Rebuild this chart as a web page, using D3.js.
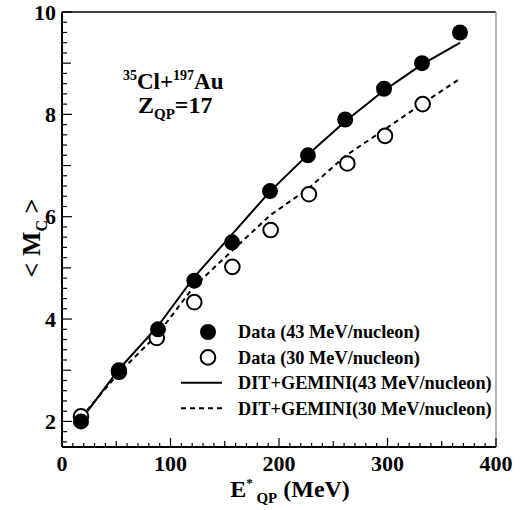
<!DOCTYPE html>
<html>
<head>
<meta charset="utf-8">
<script src="https://cdn.jsdelivr.net/npm/d3@7"></script>
<style>
  html, body { margin: 0; padding: 0; background: #fff; }
  svg { display: block; font-family: "Liberation Serif", "DejaVu Serif", serif; font-weight: bold; }
</style>
</head>
<body>
<svg id="chart" width="526" height="510"></svg>
<script>
// measured charged-particle multiplicity vs excitation energy
const E43 = [17.5, 52.5, 88.5, 122, 156.7, 191.7, 226.7, 261, 296.8, 331.8, 366.8];
const M43 = [2.0, 3.0, 3.8, 4.75, 5.5, 6.5, 7.2, 7.9, 8.5, 9.0, 9.6];
const E30 = [17.5, 52.5, 87.3, 121.9, 157, 192.3, 227.6, 263, 297.7, 332.4];
const M30 = [2.1, 2.97, 3.63, 4.33, 5.02, 5.74, 6.44, 7.04, 7.58, 8.2];

// DIT+GEMINI calculations
const SIM_E = [17.5, 52.5, 88, 121, 156.5, 192, 227, 262, 297, 331.5, 367];
const SIM43 = [2.03, 3.02, 3.85, 4.8, 5.65, 6.5, 7.22, 7.88, 8.47, 8.97, 9.4];
const SIM30 = [2.08, 2.95, 3.7, 4.62, 5.33, 6.03, 6.55, 7.2, 7.7, 8.2, 8.7];

const X_TICKS = [0, 100, 200, 300, 400];
const Y_TICKS = [2, 4, 6, 8, 10];

const svg = d3.select('#chart');
const padL = 62, padR = 496, padT = 12, padB = 447;

const x = d3.scaleLinear().domain([0, 400]).range([padL, padR]);
const y = d3.scaleLinear().domain([1.5, 10]).range([padB, padT]);

/*
 * frame
 */
svg.append('line').attr('x1', padL).attr('x2', padR).attr('y1', padT).attr('y2', padT)
  .attr('stroke', '#000').attr('stroke-width', 1.5);
svg.append('line').attr('x1', padR).attr('x2', padR).attr('y1', padT).attr('y2', padB)
  .attr('stroke', '#999').attr('stroke-width', 1.5);

/*
 * x axis: minor every 10, medium every 50, major every 100
 */
const xMinor = d3.range(0, 401, 10);
svg.append('g').selectAll('line')
  .data(xMinor)
  .enter()
  .append('line')
  .attr('x1', d => x(d)).attr('x2', d => x(d))
  .attr('y1', padB)
  .attr('y2', d => padB - (d % 100 === 0 ? 9 : d % 50 === 0 ? 6 : 4))
  .attr('stroke', '#000').attr('stroke-width', 1.2);

svg.append('g').selectAll('text')
  .data(X_TICKS)
  .enter()
  .append('text')
  .attr('x', d => x(d))
  .attr('y', 471)
  .attr('text-anchor', 'middle')
  .attr('font-size', 22)
  .text(d => d);

/*
 * y axis: minor every 0.2, medium at odd integers, major every 2
 */
const yMinor = d3.range(16, 101, 2).map(d => d / 10);
svg.append('g').selectAll('line')
  .data(yMinor)
  .enter()
  .append('line')
  .attr('x1', padL)
  .attr('x2', d => {
    const r = Math.round(d * 10);
    return padL + (r % 20 === 0 ? 10 : r % 10 === 0 ? 9 : 5);
  })
  .attr('y1', d => y(d)).attr('y2', d => y(d))
  .attr('stroke', '#000').attr('stroke-width', 1.2);

svg.append('g').selectAll('text')
  .data(Y_TICKS)
  .enter()
  .append('text')
  .attr('x', 56)
  .attr('y', d => y(d))
  .attr('dy', '0.35em')
  .attr('text-anchor', 'end')
  .attr('font-size', 22)
  .text(d => d);

svg.append('line').attr('x1', padL).attr('x2', padR).attr('y1', padB).attr('y2', padB)
  .attr('stroke', '#000').attr('stroke-width', 2);
svg.append('line').attr('x1', padL).attr('x2', padL).attr('y1', padT).attr('y2', padB)
  .attr('stroke', '#000').attr('stroke-width', 2);

/*
 * axis titles
 */
const xt = svg.append('text')
  .attr('x', 290).attr('y', 497)
  .attr('text-anchor', 'middle')
  .attr('font-size', 24);
xt.append('tspan').text('E');
xt.append('tspan').attr('font-size', 13).attr('dy', -10).text('*');
xt.append('tspan').attr('font-size', 15).attr('dy', 16).text(' QP');
xt.append('tspan').attr('dy', -6).text(' (MeV)');

const yt = svg.append('text')
  .attr('transform', 'translate(40,' + 238 + ') rotate(-90)')
  .attr('text-anchor', 'middle')
  .attr('font-size', 26);
yt.append('tspan').text('< M');
yt.append('tspan').attr('font-size', 16).attr('dy', 7).text('C');
yt.append('tspan').attr('dy', -7).text(' >');

/*
 * reaction label
 */
const r1 = svg.append('text').attr('x', 123).attr('y', 89).attr('font-size', 23);
r1.append('tspan').attr('font-size', 14).attr('dy', -9).text('35');
r1.append('tspan').attr('dy', 9).text('Cl+');
r1.append('tspan').attr('font-size', 14).attr('dy', -9).text('197');
r1.append('tspan').attr('dy', 9).text('Au');

const r2 = svg.append('text').attr('x', 138).attr('y', 113).attr('font-size', 24);
r2.append('tspan').text('Z');
r2.append('tspan').attr('font-size', 15).attr('dy', 6).text('QP');
r2.append('tspan').attr('dy', -6).text('=17');

/*
 * calculation curves
 */
const line = d3.line().x(d => x(d[0])).y(d => y(d[1]));
svg.append('path')
  .attr('d', line(d3.zip(SIM_E, SIM43)))
  .attr('fill', 'none').attr('stroke', '#000').attr('stroke-width', 2);
svg.append('path')
  .attr('d', line(d3.zip(SIM_E, SIM30)))
  .attr('fill', 'none').attr('stroke', '#000').attr('stroke-width', 2)
  .attr('stroke-dasharray', '5,4');

/*
 * data points
 */
svg.append('g').selectAll('circle')
  .data(d3.zip(E30, M30))
  .enter()
  .append('circle')
  .attr('cx', d => x(d[0])).attr('cy', d => y(d[1]))
  .attr('r', 7.3)
  .attr('fill', '#fff').attr('stroke', '#000').attr('stroke-width', 2);

svg.append('g').selectAll('circle')
  .data(d3.zip(E43, M43))
  .enter()
  .append('circle')
  .attr('cx', d => x(d[0])).attr('cy', d => y(d[1]))
  .attr('r', 8)
  .attr('fill', '#000');

/*
 * legend
 */
const LEGEND = ['Data (43 MeV/nucleon)', 'Data (30 MeV/nucleon)',
  'DIT+GEMINI(43 MeV/nucleon)', 'DIT+GEMINI(30 MeV/nucleon)'];
const lg = svg.append('g');
LEGEND.forEach((t, i) => {
  const ly = 332 + i * 25.4;
  if (i === 0) {
    lg.append('circle').attr('cx', 208).attr('cy', ly).attr('r', 8).attr('fill', '#000');
  } else if (i === 1) {
    lg.append('circle').attr('cx', 208).attr('cy', ly).attr('r', 7.3)
      .attr('fill', '#fff').attr('stroke', '#000').attr('stroke-width', 2);
  } else {
    lg.append('line').attr('x1', 181).attr('x2', 222).attr('y1', ly).attr('y2', ly)
      .attr('stroke', '#000').attr('stroke-width', 2)
      .attr('stroke-dasharray', i === 3 ? '5,4' : null);
  }
  lg.append('text').attr('x', 238).attr('y', ly).attr('dy', '0.35em')
    .attr('font-size', 18.3).text(t);
});
</script>
</body>
</html>
